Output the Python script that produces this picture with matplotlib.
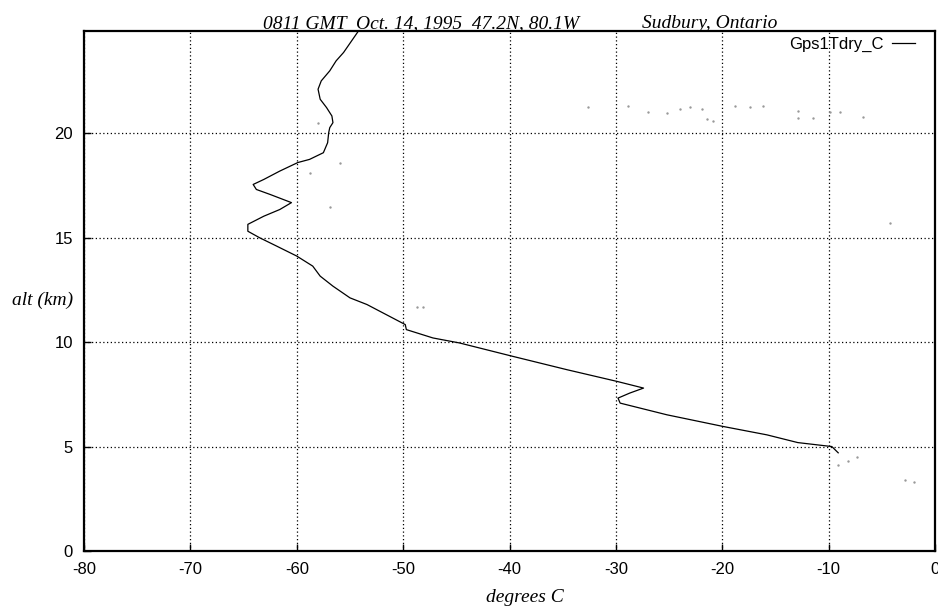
import matplotlib
matplotlib.use("Agg")
import matplotlib.pyplot as plt

plt.rcParams['axes.unicode_minus'] = False
plt.rcParams['font.family'] = ['Liberation Sans', 'DejaVu Sans']

# sounding profile, temperature (deg C) vs altitude (km)
temp_c = [-54.2, -55.6, -56.3, -56.9, -57.7, -58.0, -57.8, -57.2, -56.7, -56.6,
          -56.9, -57.0, -57.1, -57.5, -58.8, -59.9, -61.6, -63.1, -64.1, -63.8,
          -62.5, -60.5, -61.6, -63.1, -64.6, -64.6, -63.5, -61.9, -60.0, -58.5,
          -57.8, -56.6, -55.0, -53.4, -49.8, -49.7, -47.2, -44.7, -39.7, -34.6,
          -29.9, -27.4, -28.7, -29.8, -29.6, -25.2, -19.9, -15.8, -12.9, -9.7, -9.1]
alt_km = [24.9, 23.87, 23.47, 22.99, 22.51, 22.11, 21.63, 21.23, 20.83, 20.51,
          20.27, 20.03, 19.55, 19.07, 18.75, 18.6, 18.19, 17.79, 17.55, 17.31,
          17.07, 16.68, 16.35, 16.03, 15.64, 15.31, 15.0, 14.6, 14.12, 13.64,
          13.16, 12.68, 12.12, 11.8, 10.84, 10.6, 10.2, 9.96, 9.32, 8.68,
          8.12, 7.8, 7.56, 7.32, 7.08, 6.52, 5.96, 5.56, 5.19, 5.0, 4.7]

# faint stray points visible in the scan
stray_t = [-32.6, -28.9, -27.0, -25.2, -24.0, -23.0, -21.9, -21.4, -20.9, -18.8,
           -17.4, -16.2, -12.9, -12.9, -11.5, -9.9, -8.9, -6.8, -4.25, -2.8,
           -2.0, -7.35, -8.2, -9.1, -48.7, -48.1, -55.9, -58.8, -56.9, -58.0]
stray_alt = [21.25, 21.3, 21.0, 20.95, 21.15, 21.25, 21.15, 20.7, 20.6, 21.3,
             21.25, 21.3, 21.05, 20.75, 20.75, 21.0, 21.0, 20.8, 15.7, 3.4,
             3.3, 4.5, 4.3, 4.1, 11.7, 11.7, 18.6, 18.1, 16.45, 20.5]

x_ticks = [-80, -70, -60, -50, -40, -30, -20, -10, 0]
y_ticks = [0, 5, 10, 15, 20]

fig = plt.figure(figsize=(9.38, 6.07), dpi=100)
ax = fig.add_axes([0.0896, 0.0923, 0.9072, 0.8567])

ax.scatter(stray_t, stray_alt, s=3, color='#999999', linewidths=0, zorder=2)
ax.plot(temp_c, alt_km, color='black', linewidth=0.9, label='Gps1Tdry_C', zorder=3)

ax.set_xlim(-80, 0)
ax.set_ylim(0, 24.9)
ax.set_xticks(x_ticks)
ax.set_yticks(y_ticks)
ax.tick_params(direction='in', length=5, width=1, labelsize=12, pad=8)
ax.grid(True, color='black', linestyle=(0, (1, 2)), linewidth=0.9)
for s in ax.spines.values():
    s.set_linewidth(1.6)

leg = ax.legend(loc='center right', bbox_to_anchor=(915 / 938, 1 - 44 / 607),
                bbox_transform=fig.transFigure, frameon=False, markerfirst=False,
                fontsize=12, handlelength=1.4, handletextpad=0.5,
                borderaxespad=0, borderpad=0)

serif = dict(family=['Liberation Serif', 'DejaVu Serif'], style='italic', fontsize=14)
ax.text(263 / 938, 1 - 28 / 607, '0811 GMT  Oct. 14, 1995  47.2N, 80.1W',
        transform=fig.transFigure, ha='left', va='baseline', **serif)
ax.text(642 / 938, 1 - 28 / 607, 'Sudbury, Ontario',
        transform=fig.transFigure, ha='left', va='baseline', **serif)
fig.text(43 / 938, 1 - 300 / 607, 'alt (km)', ha='center', va='center', **serif)
fig.text(525 / 938, 1 - 597 / 607, 'degrees C', ha='center', va='center', **serif)

fig.savefig('out.png', dpi=100)
